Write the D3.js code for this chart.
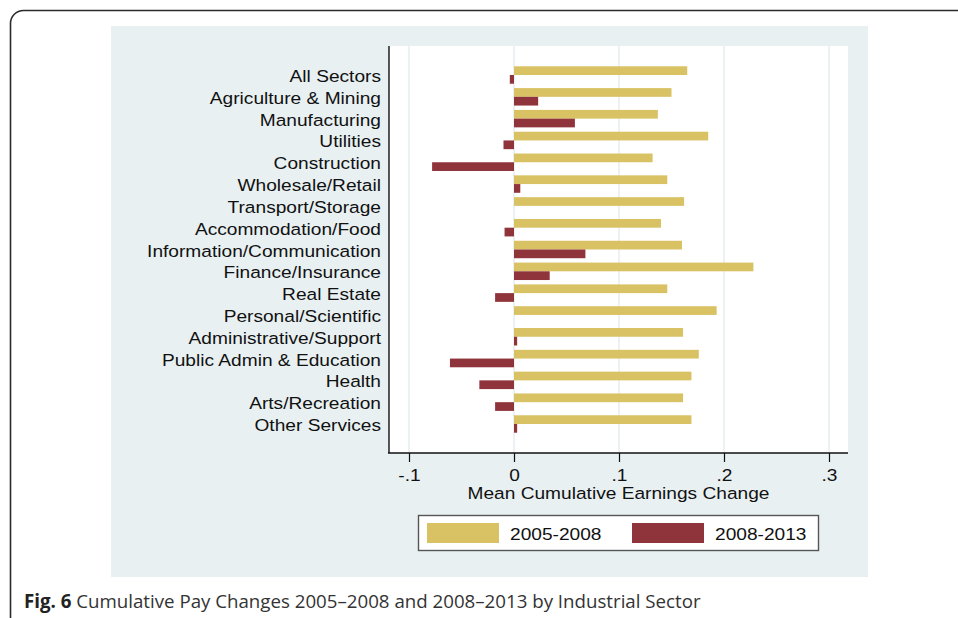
<!DOCTYPE html>
<html>
<head>
<meta charset="utf-8">
<script src="https://cdnjs.cloudflare.com/ajax/libs/d3/7.8.5/d3.min.js"></script>
<style>
  html, body { margin: 0; padding: 0; background: #fff; }
  svg { display: block; }
</style>
</head>
<body>
<svg id="chart" width="958" height="618"></svg>
<script>
/** Sector names, top to bottom */
var sectors = ['All Sectors', 'Agriculture & Mining', 'Manufacturing', 'Utilities',
    'Construction', 'Wholesale/Retail', 'Transport/Storage', 'Accommodation/Food',
    'Information/Communication', 'Finance/Insurance', 'Real Estate', 'Personal/Scientific',
    'Administrative/Support', 'Public Admin & Education', 'Health', 'Arts/Recreation',
    'Other Services'];

/** Mean cumulative earnings change by period */
var change0508 = [0.165, 0.150, 0.137, 0.185, 0.132, 0.146, 0.162, 0.140,
    0.160, 0.228, 0.146, 0.193, 0.161, 0.176, 0.169, 0.161, 0.169];
var change0813 = [-0.004, 0.023, 0.058, -0.010, -0.078, 0.006, 0.000, -0.009,
    0.068, 0.034, -0.018, 0.000, 0.003, -0.061, -0.033, -0.018, 0.003];

var periods = ['2005-2008', '2008-2013'];
var xTicks = [-0.1, 0, 0.1, 0.2, 0.3];

var colors = {'2005-2008': '#d9c264', '2008-2013': '#8f343b'};

/** the exported graph is stretched sideways, so stretch the text the same way */
var stretch = 'scale(1.16,1)';
var labelFont = 'Liberation Sans, Arial, sans-serif';

var svg = d3.select('#chart');

/** outer rounded panel border */
svg.append('rect')
    .attr('x', 10.5).attr('y', 10.5)
    .attr('width', 1000).attr('height', 700)
    .attr('rx', 13)
    .style('fill', 'none')
    .style('stroke', '#2b2b2b')
    .style('stroke-width', 1.6);

/** graph background */
svg.append('rect')
    .attr('x', 111).attr('y', 26)
    .attr('width', 757).attr('height', 551)
    .style('fill', '#e8f0f2');

var plot = {left: 389, right: 848, top: 46, bottom: 453};

svg.append('rect')
    .attr('x', plot.left).attr('y', plot.top)
    .attr('width', plot.right - plot.left).attr('height', plot.bottom - plot.top)
    .style('fill', '#ffffff');

var xScale = d3.scaleLinear()
    .domain([-0.1, 0.3])
    .range([409, 829]);

var yScale = d3.scaleBand()
    .domain(sectors)
    .range([plot.top, plot.bottom])
    .paddingInner(0.2)
    .paddingOuter(0.93);

var subScale = d3.scaleBand()
    .domain(periods)
    .range([0, yScale.bandwidth()]);

//gridlines
svg.append('g').selectAll('line').data(xTicks)
    .enter().append('line')
    .attr('x1', function (d) { return xScale(d); })
    .attr('x2', function (d) { return xScale(d); })
    .attr('y1', plot.top)
    .attr('y2', plot.bottom)
    .style('stroke', '#e6eef1')
    .style('stroke-width', 1.5);

//bars
var rows = sectors.map(function (s, i) {
    return {sector: s, values: [
        {period: '2005-2008', value: change0508[i]},
        {period: '2008-2013', value: change0813[i]}
    ]};
});

var groups = svg.append('g').selectAll('g').data(rows)
    .enter().append('g')
    .attr('transform', function (d) { return 'translate(0,' + yScale(d.sector) + ')'; });

groups.selectAll('rect').data(function (d) { return d.values; })
    .enter().append('rect')
    .attr('x', function (d) { return xScale(Math.min(0, d.value)); })
    .attr('y', function (d) { return subScale(d.period); })
    .attr('width', function (d) { return Math.abs(xScale(d.value) - xScale(0)); })
    .attr('height', subScale.bandwidth())
    .style('fill', function (d) { return colors[d.period]; });

//category labels
svg.append('g').selectAll('text').data(sectors)
    .enter().append('text')
    .attr('transform', function (d) {
        return 'translate(381,' + (yScale(d) + yScale.bandwidth() / 2 + 7) + ') ' + stretch;
    })
    .attr('text-anchor', 'end')
    .style('font-family', labelFont)
    .style('font-size', '16.5px')
    .style('fill', '#111')
    .text(function (d) { return d; });

//axes lines
svg.append('line')
    .attr('x1', plot.left).attr('x2', plot.left)
    .attr('y1', plot.top).attr('y2', plot.bottom)
    .style('stroke', '#111').style('stroke-width', 1.4);

var xAxis = d3.axisBottom(xScale)
    .tickValues(xTicks)
    .tickSize(9)
    .tickSizeOuter(0)
    .tickPadding(7)
    .tickFormat(function (d) {
        return d === 0 ? '0' : d3.format('.1f')(d).replace('0.', '.').replace('\u2212', '-');
    });

var gx = svg.append('g')
    .attr('transform', 'translate(0,' + plot.bottom + ')')
    .call(xAxis);

gx.select('.domain').remove();
gx.append('line')
    .attr('x1', plot.left - 1).attr('x2', plot.right)
    .style('stroke', '#111').style('stroke-width', 1.4);
gx.selectAll('.tick line').style('stroke', '#111').style('stroke-width', 1.2);
gx.selectAll('.tick text')
    .attr('transform', stretch)
    .style('font-family', labelFont)
    .style('font-size', '16.5px')
    .style('fill', '#111');

svg.append('text')
    .attr('transform', 'translate(' + ((plot.left + plot.right) / 2) + ',499) ' + stretch)
    .attr('text-anchor', 'middle')
    .style('font-family', labelFont)
    .style('font-size', '16.5px')
    .style('fill', '#111')
    .text('Mean Cumulative Earnings Change');

//legend
var legend = svg.append('g');
legend.append('rect')
    .attr('x', 418.5).attr('y', 515.5)
    .attr('width', 400).attr('height', 35)
    .style('fill', '#fff')
    .style('stroke', '#555')
    .style('stroke-width', 1.4);

var legendItems = legend.selectAll('g.item').data(periods)
    .enter().append('g')
    .attr('class', 'item')
    .attr('transform', function (d, i) { return 'translate(' + (427 + i * 205) + ',0)'; });

legendItems.append('rect')
    .attr('x', 0).attr('y', 523)
    .attr('width', 72).attr('height', 20)
    .style('fill', function (d) { return colors[d]; });

legendItems.append('text')
    .attr('transform', 'translate(83,540) ' + stretch)
    .style('font-family', labelFont)
    .style('font-size', '16.5px')
    .style('fill', '#111')
    .text(function (d) { return d; });

//caption
var caption = svg.append('text')
    .attr('x', 24)
    .attr('y', 608)
    .style('font-family', 'Open Sans, Noto Sans, sans-serif')
    .style('font-size', '18.7px')
    .style('fill', '#333');
caption.append('tspan').style('font-weight', 'bold').style('fill', '#222').text('Fig. 6');
caption.append('tspan').text(' Cumulative Pay Changes 2005\u20132008 and 2008\u20132013 by Industrial Sector');
</script>
</body>
</html>
